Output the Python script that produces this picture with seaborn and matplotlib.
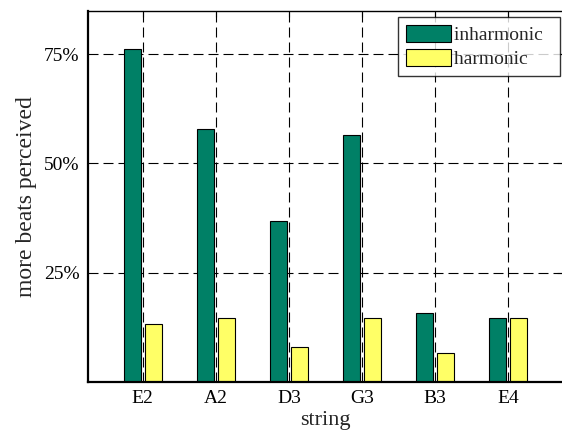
import pandas as pd
import matplotlib
matplotlib.use("Agg")
import matplotlib.pyplot as plt
import seaborn as sns
from matplotlib.ticker import FixedLocator, FuncFormatter

# ── Data ──────────────────────────────────────────────────────────────────────
strings     = ["E2", "A2", "D3", "G3", "B3", "E4"]
inharmonic  = [76.2, 57.8, 36.9, 56.6, 15.7, 14.5]
harmonic    = [13.2, 14.5, 7.9, 14.5, 6.6, 14.5]
series      = ["inharmonic", "harmonic"]
y_ticks     = [25, 50, 75]

df = pd.DataFrame({
    "string": strings * 2,
    "value":  inharmonic + harmonic,
    "kind":   [series[0]] * len(strings) + [series[1]] * len(strings),
})

# ── Style ─────────────────────────────────────────────────────────────────────
sns.set_style("white")
plt.rcParams["font.family"] = ["Liberation Serif", "DejaVu Serif"]
plt.rcParams["xtick.direction"] = "in"
plt.rcParams["ytick.direction"] = "in"

fig = plt.figure(figsize=(5.62, 4.32), dpi=100)
ax = fig.add_axes([0.1566, 0.1164, 0.845, 0.8588])

palette = {"inharmonic": "#008066", "harmonic": "#ffff66"}
sns.barplot(data=df, x="string", y="value", hue="kind", hue_order=series,
            palette=palette, width=0.571, gap=0.2, edgecolor="black",
            linewidth=0.8, saturation=1, ax=ax)

ax.set_xlim(-0.75, 5.75)
ax.set_ylim(0, 85)
ax.yaxis.set_major_locator(FixedLocator(y_ticks))
ax.yaxis.set_major_formatter(FuncFormatter(lambda v, p: f"{v:.0f}%"))

ax.set_axisbelow(True)
ax.grid(True, color="black", linestyle=(0, (9, 4.5)), linewidth=0.8)

ax.tick_params(axis="both", labelsize=14, length=4, width=0.8,
               top=True, right=True, colors="black")
ax.tick_params(axis="x", pad=6)
ax.tick_params(axis="y", pad=6)
for side in ["top", "right"]:
    ax.spines[side].set_linewidth(1.0)
    ax.spines[side].set_color("black")
for side in ["left", "bottom"]:
    ax.spines[side].set_linewidth(1.6)
    ax.spines[side].set_color("black")

ax.set_xlabel("string", fontsize=16, labelpad=3)
ax.set_ylabel("more beats perceived", fontsize=17, labelpad=5)

# trailing spaces give the wider right margin of the reference legend box
handles, labels = ax.get_legend_handles_labels()
leg = ax.legend(handles, [s + "  " for s in labels],
                loc="upper right", bbox_to_anchor=(0.994, 0.982), fontsize=14,
                frameon=True, fancybox=False, edgecolor="black",
                handlelength=2.3, handleheight=0.95, handletextpad=0.15,
                borderpad=0.4, labelspacing=0.25, borderaxespad=0)
leg.get_frame().set_linewidth(1.0)

plt.savefig("out.png", dpi=100)
